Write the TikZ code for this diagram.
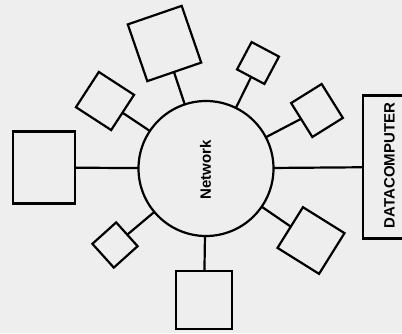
\documentclass[tikz,border=0pt]{standalone}
\usepackage{fontspec}
\setmainfont{Liberation Sans}
\definecolor{paper}{RGB}{238,238,238}
\begin{document}
\begin{tikzpicture}[x=1pt,y=-1pt,
  hostbox/.style={draw=black,line width=2.2pt,rectangle,inner sep=0pt,outer sep=0pt},
  link/.style={draw=black,line width=2.2pt},
  lbl/.style={font=\fontsize{15}{15}\selectfont\bfseries,rotate=90,inner sep=0pt}]
\fill[paper] (0,0) rectangle (402,333);
\useasboundingbox (0,0) rectangle (402,333);
\node[draw=black,line width=2.2pt,circle,minimum size=135pt,inner sep=0pt,outer sep=0pt] (net) at (206,168.5) {};
\node[lbl] (nettext) at (205.5,170) {Network};
\node[hostbox,minimum width=62pt,minimum height=72pt] (L) at (44,167.5) {};
\node[hostbox,minimum width=56pt,minimum height=58pt] (B) at (204,300) {};
\node[hostbox,minimum width=57pt,minimum height=60pt,rotate=19] (T) at (164.5,43.5) {};
\node[hostbox,minimum size=42pt,rotate=-33] (UL) at (105,101) {};
\node[hostbox,minimum size=31pt,rotate=-28] (TR) at (258,63) {};
\node[hostbox,minimum width=36pt,minimum height=40pt,rotate=32] (R) at (317,110.5) {};
\node[hostbox,minimum width=49pt,minimum height=48pt,rotate=-32] (LR) at (311,240.5) {};
\node[hostbox,minimum size=32pt,rotate=42] (LL) at (115,245) {};
\node[hostbox,minimum width=64pt,minimum height=143pt] (DC) at (395,167) {};
\node[lbl] (dctext) at (389.5,165.5) {DATACOMPUTER};
\draw[link] (net) -- (L);
\draw[link] (net) -- (B);
\draw[link] (net) -- (T);
\draw[link] (net) -- (UL);
\draw[link] (net) -- (TR);
\draw[link] (net) -- (R);
\draw[link] (net) -- (LR);
\draw[link] (net) -- (LL);
\draw[link] (net) -- (DC);
\end{tikzpicture}
\end{document}
